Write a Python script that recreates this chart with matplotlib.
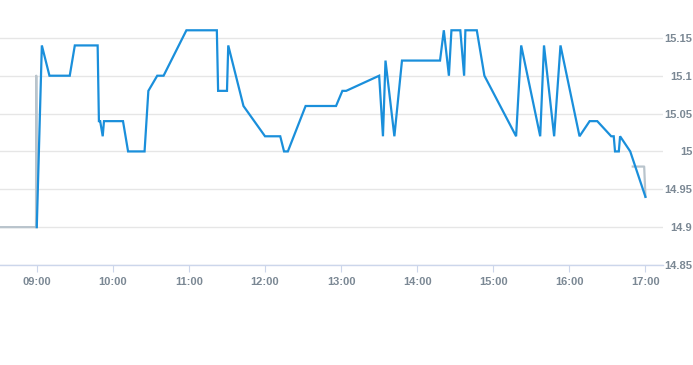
import matplotlib
import numpy as np

matplotlib.use("Agg")
import matplotlib.pyplot as plt

# intraday price (blue) and the pre/post session line (grey), times as HH:MM
price_times = ["09:00", "09:04", "09:10", "09:26", "09:30", "09:48", "09:49", "09:50",
               "09:52", "09:53", "10:08", "10:12", "10:25", "10:28", "10:35", "10:40",
               "10:58", "11:22", "11:23", "11:30", "11:31", "11:43", "12:00", "12:12",
               "12:15", "12:18", "12:32", "12:56", "13:01", "13:04", "13:30", "13:33",
               "13:35", "13:42", "13:48", "14:18", "14:21", "14:25", "14:27", "14:34",
               "14:37", "14:38", "14:47", "14:53", "15:18", "15:22", "15:37", "15:40",
               "15:48", "15:53", "16:08", "16:16", "16:22", "16:33", "16:35", "16:36",
               "16:39", "16:40", "16:48", "17:00"]
price_values = [14.90, 15.14, 15.10, 15.10, 15.14, 15.14, 15.04, 15.04,
                15.02, 15.04, 15.04, 15.00, 15.00, 15.08, 15.10, 15.10,
                15.16, 15.16, 15.08, 15.08, 15.14, 15.06, 15.02, 15.02,
                15.00, 15.00, 15.06, 15.06, 15.08, 15.08, 15.10, 15.02,
                15.12, 15.02, 15.12, 15.12, 15.16, 15.10, 15.16, 15.16,
                15.10, 15.16, 15.16, 15.10, 15.02, 15.14, 15.02, 15.14,
                15.02, 15.14, 15.02, 15.04, 15.04, 15.02, 15.02, 15.00,
                15.00, 15.02, 15.00, 14.94]

pre_times = ["08:31", "08:59", "08:59", "09:00"]
pre_values = [14.90, 14.90, 15.10, 14.90]
post_times = ["16:50", "16:59", "17:00"]
post_values = [14.98, 14.98, 14.94]

hour_ticks = ["09:00", "10:00", "11:00", "12:00", "13:00", "14:00", "15:00", "16:00", "17:00"]
y_ticks = [14.85, 14.9, 14.95, 15.0, 15.05, 15.1, 15.15]


def to_minutes(labels):
    out = []
    for s in labels:
        h, m = s.split(":")
        out.append(int(h) * 60 + int(m))
    return np.array(out, dtype=float)


plt.rcParams["font.family"] = ["Liberation Sans", "DejaVu Sans"]

fig = plt.figure(figsize=(6.93, 3.65), dpi=100)
ax = fig.add_axes([0.0, 0.274, 0.957, 0.726])

pre_x = to_minutes(pre_times)
pre_x[1] += 0.4
pre_x[2] += 0.6
ax.plot(pre_x, pre_values, color="#b9c4cc", linewidth=1.6, zorder=2)
ax.plot(to_minutes(post_times), post_values, color="#b9c4cc", linewidth=1.6, zorder=2)
ax.plot(to_minutes(price_times), price_values, color="#1a8fdb", linewidth=1.6,
        zorder=3, solid_joinstyle="miter")

ax.set_xlim(511, 1034)
ax.set_ylim(14.85, 15.2)

ax.set_xticks(to_minutes(hour_ticks))
ax.set_xticklabels(hour_ticks)
ax.set_yticks(y_ticks)
ax.set_yticklabels([f"{v:g}" for v in y_ticks])

ax.yaxis.tick_right()
ax.grid(axis="y", color="#e6e6e6", linewidth=1)
ax.set_axisbelow(True)
for side in ["top", "left", "right"]:
    ax.spines[side].set_visible(False)
ax.spines["bottom"].set_color("#ccd6eb")
ax.spines["bottom"].set_linewidth(1)

ax.tick_params(axis="x", length=5, color="#ccd6eb", pad=4, labelsize=8,
               labelcolor="#7b8894")
ax.tick_params(axis="y", length=0, pad=21, labelsize=8, labelcolor="#7b8894")
for lab in ax.get_yticklabels():
    lab.set_horizontalalignment("right")
for lab in ax.get_xticklabels() + ax.get_yticklabels():
    lab.set_fontweight("bold")

fig.savefig("out.png", dpi=100)
